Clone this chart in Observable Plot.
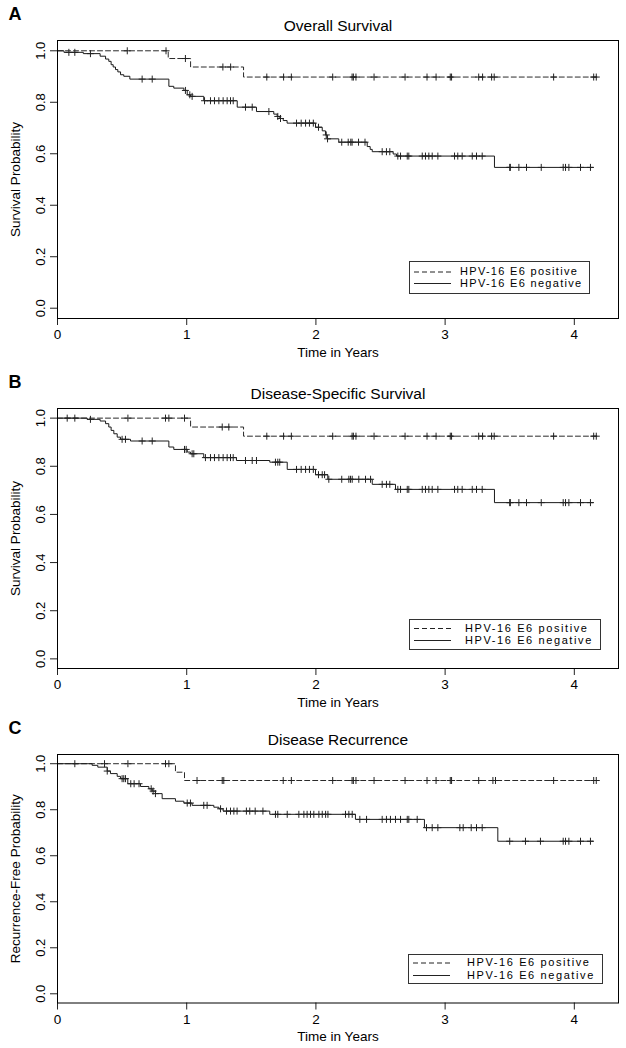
<!DOCTYPE html>
<html><head><meta charset="utf-8">
<script src="https://cdn.jsdelivr.net/npm/d3@7"></script>
<script src="https://cdn.jsdelivr.net/npm/@observablehq/plot@0.6"></script>
<style>
body{margin:0;background:#fff;font-family:"Liberation Sans",Arial,sans-serif;}
#chart{width:626px;}
#chart svg{display:block;}
</style></head><body><div id="chart"></div>
<script>
// ---------- shared ----------
const xTicks = [0, 1, 2, 3, 4];
const yTicks = [0, 0.2, 0.4, 0.6, 0.8, 1.0];
const groupNames = ["HPV-16 E6 positive", "HPV-16 E6 negative"];
const xLabel = "Time in Years";

// ---------- Panel A: Overall Survival ----------
const A_posTime = [0, 0.857, 1.03, 1.44];
const A_posSurv = [1, 0.970, 0.937, 0.898];
const A_posEnd = 4.19;
const A_posCens = [0.54, 0.84, 0.99, 1.28, 1.34, 1.62, 1.75, 1.81, 2.13, 2.28, 2.29, 2.31, 2.45, 2.69, 2.86, 2.93, 3.04, 3.05, 3.26, 3.29, 3.36, 3.38, 3.84, 4.15, 4.17];
const A_negTime = [0, 0.05, 0.20, 0.33, 0.372, 0.397, 0.415, 0.431, 0.449, 0.467, 0.488, 0.513, 0.560, 0.862, 0.90, 0.978, 1.004, 1.029, 1.132, 1.391, 1.540, 1.674, 1.700, 1.721, 1.747, 1.777, 1.997, 2.049, 2.074, 2.087, 2.177, 2.397, 2.42, 2.436, 2.598, 2.624, 3.382];
const A_negSurv = [1, 0.994, 0.989, 0.979, 0.968, 0.959, 0.946, 0.937, 0.927, 0.918, 0.907, 0.901, 0.890, 0.862, 0.855, 0.846, 0.829, 0.823, 0.806, 0.781, 0.764, 0.754, 0.745, 0.737, 0.729, 0.719, 0.703, 0.689, 0.673, 0.658, 0.645, 0.628, 0.617, 0.608, 0.599, 0.591, 0.547];
const A_negEnd = 4.146;
const A_negCens = [0.088, 0.134, 0.255, 0.655, 0.733, 0.99, 1.024, 1.042, 1.138, 1.184, 1.215, 1.249, 1.282, 1.313, 1.339, 1.36, 1.455, 1.507, 1.636, 1.705, 1.726, 1.85, 1.886, 1.92, 1.95, 1.98, 2.02, 2.08, 2.09, 2.2, 2.25, 2.27, 2.28, 2.33, 2.38, 2.513, 2.546, 2.572, 2.634, 2.655, 2.707, 2.719, 2.823, 2.848, 2.874, 2.9, 2.944, 3.073, 3.098, 3.132, 3.21, 3.243, 3.287, 3.50, 3.505, 3.571, 3.63, 3.744, 3.914, 3.932, 3.958, 4.048, 4.125];

// ---------- Panel B: Disease-Specific Survival ----------
const B_posTime = [0, 1.03, 1.44];
const B_posSurv = [1, 0.963, 0.925];
const B_posEnd = 4.19;
const B_posCens = [0.545, 0.836, 0.862, 0.983, 1.275, 1.326, 1.62, 1.75, 1.81, 2.13, 2.28, 2.29, 2.31, 2.45, 2.69, 2.86, 2.93, 3.04, 3.05, 3.26, 3.29, 3.36, 3.38, 3.84, 4.15, 4.17];
const B_negTime = [0, 0.23, 0.33, 0.372, 0.397, 0.415, 0.436, 0.462, 0.488, 0.565, 0.862, 0.90, 1.004, 1.029, 1.132, 1.385, 1.643, 1.778, 1.997, 2.092, 2.436, 2.616, 3.382];
const B_negSurv = [1, 0.995, 0.988, 0.977, 0.963, 0.949, 0.935, 0.921, 0.912, 0.905, 0.880, 0.870, 0.859, 0.852, 0.836, 0.824, 0.817, 0.787, 0.765, 0.746, 0.725, 0.704, 0.649];
const B_negEnd = 4.146;
const B_negCens = [0.075, 0.134, 0.255, 0.50, 0.526, 0.655, 0.733, 0.983, 0.996, 1.042, 1.055, 1.145, 1.184, 1.215, 1.249, 1.282, 1.313, 1.339, 1.36, 1.455, 1.507, 1.54, 1.687, 1.705, 1.72, 1.85, 1.886, 1.92, 1.95, 1.98, 2.02, 2.049, 2.067, 2.1, 2.2, 2.255, 2.268, 2.281, 2.332, 2.384, 2.423, 2.513, 2.546, 2.572, 2.634, 2.655, 2.707, 2.719, 2.823, 2.848, 2.874, 2.9, 2.944, 3.073, 3.098, 3.132, 3.21, 3.243, 3.287, 3.50, 3.505, 3.571, 3.63, 3.744, 3.914, 3.932, 3.958, 4.048, 4.125];

// ---------- Panel C: Disease Recurrence ----------
const C_posTime = [0, 0.913, 0.983];
const C_posSurv = [1, 0.963, 0.927];
const C_posEnd = 4.19;
const C_posCens = [0.364, 0.545, 0.836, 0.862, 1.08, 1.275, 1.287, 1.747, 1.81, 2.13, 2.28, 2.29, 2.31, 2.45, 2.69, 2.86, 2.93, 3.04, 3.05, 3.26, 3.37, 3.39, 3.84, 4.15, 4.17];
const C_negTime = [0, 0.268, 0.312, 0.385, 0.41, 0.462, 0.488, 0.544, 0.642, 0.707, 0.733, 0.758, 0.81, 0.913, 0.978, 1.042, 1.21, 1.249, 1.282, 1.643, 2.306, 2.84, 3.408];
const C_negSurv = [1, 0.993, 0.985, 0.968, 0.957, 0.945, 0.935, 0.913, 0.901, 0.891, 0.881, 0.870, 0.848, 0.837, 0.829, 0.819, 0.811, 0.804, 0.794, 0.780, 0.758, 0.722, 0.663];
const C_negEnd = 4.146;
const C_negCens = [0.134, 0.385, 0.50, 0.513, 0.526, 0.567, 0.593, 0.631, 0.725, 0.74, 0.758, 1.004, 1.029, 1.132, 1.158, 1.262, 1.308, 1.339, 1.365, 1.39, 1.462, 1.488, 1.53, 1.59, 1.687, 1.705, 1.778, 1.868, 1.907, 1.932, 1.958, 1.984, 2.023, 2.049, 2.075, 2.093, 2.229, 2.255, 2.281, 2.34, 2.392, 2.513, 2.546, 2.577, 2.616, 2.655, 2.707, 2.719, 2.784, 2.856, 2.9, 2.944, 3.114, 3.14, 3.202, 3.243, 3.287, 3.50, 3.622, 3.738, 3.914, 3.932, 3.958, 4.048, 4.125];

// ---------- helpers ----------
function stepLine(times, survs, end) {
  const pts = times.map((t, i) => ({t, s: survs[i]}));
  pts.push({t: end, s: survs[survs.length - 1]});
  return pts;
}
function censorPoints(times, survs, cens) {
  return cens.map(c => {
    let s = survs[0];
    for (let i = 0; i < times.length; i++) if (times[i] <= c) s = survs[i];
    return {t: c, s};
  });
}

const FONT = "'Liberation Sans', Arial, Helvetica, sans-serif";

function panel(cfg) {
  const posLine = stepLine(cfg.posTime, cfg.posSurv, cfg.posEnd);
  const negLine = stepLine(cfg.negTime, cfg.negSurv, cfg.negEnd);
  const posC = censorPoints(cfg.posTime, cfg.posSurv, cfg.posCens);
  const negC = censorPoints(cfg.negTime, cfg.negSurv, cfg.negCens);
  const plot = Plot.plot({
    width: 626,
    height: cfg.height,
    marginLeft: 57,
    marginRight: 8,
    marginTop: cfg.marginTop,
    marginBottom: cfg.marginBottom,
    style: {fontFamily: FONT, background: "#fff", color: "#000", overflow: "visible"},
    x: {domain: [0, 4.342]},
    y: {domain: [-0.04, 1.04]},
    marks: [
      Plot.axisX({ticks: xTicks, tickSize: 7, tickPadding: 4, fontSize: 13.5, label: null, stroke: "#222", tickFormat: d => String(d)}),
      Plot.axisY({ticks: yTicks, tickSize: 7, label: null, stroke: "#222", tickFormat: () => ""}),
      Plot.text(yTicks, {x: 0, y: d => d, text: d => d.toFixed(1), rotate: -90, dx: -17, fontSize: 13, fill: "#000", textAnchor: "middle", lineAnchor: "middle"}),
      Plot.line(posLine, {x: "t", y: "s", curve: "step-after", stroke: "#2a2a2a", strokeWidth: 1, strokeDasharray: "5,3"}),
      Plot.line(negLine, {x: "t", y: "s", curve: "step-after", stroke: "#1a1a1a", strokeWidth: 1}),
      Plot.dot(posC, {x: "t", y: "s", symbol: "plus", r: 2.4, stroke: "#222", strokeWidth: 1}),
      Plot.dot(negC, {x: "t", y: "s", symbol: "plus", r: 2.4, stroke: "#222", strokeWidth: 1}),
      Plot.frame({stroke: "#000", strokeWidth: 1}),
      Plot.text([cfg.title], {frameAnchor: "top", dy: -14, text: d => d, fontSize: 15.5, fill: "#000", textAnchor: "middle", lineAnchor: "middle"}),
      Plot.text([cfg.letter], {frameAnchor: "top-left", dx: -49, dy: -26, text: d => d, fontSize: 18, fontWeight: "bold", textAnchor: "start", lineAnchor: "middle", fill: "#000"}),
      Plot.text([cfg.yLabel], {frameAnchor: "left", dx: -42, rotate: -90, text: d => d, fontSize: 13.5, fill: "#000", textAnchor: "middle", lineAnchor: "middle"}),
      Plot.text([xLabel], {frameAnchor: "bottom", dy: 34, text: d => d, fontSize: 13.5, fill: "#000", textAnchor: "middle", lineAnchor: "middle"})
    ]
  });
  // legend (layout only)
  const L = cfg.legend;
  const svg = d3.select(plot);
  const g = svg.append("g").attr("font-family", FONT).attr("text-anchor", "start");
  g.append("rect").attr("x", L.x + 0.5).attr("y", L.y + 0.5).attr("width", L.w).attr("height", L.h)
    .attr("fill", "#fff").attr("stroke", "#333").attr("stroke-width", 1);
  const rows = [L.y + L.r1, L.y + L.r2];
  groupNames.forEach((name, i) => {
    g.append("line").attr("x1", L.x + 5).attr("x2", L.x + 42).attr("y1", rows[i] + 0.5).attr("y2", rows[i] + 0.5)
      .attr("stroke", "#222").attr("stroke-width", 1).attr("stroke-dasharray", i === 0 ? "5,3" : null);
    g.append("text").attr("x", L.x + L.tx).attr("y", rows[i]).attr("dy", "0.35em")
      .attr("text-anchor", "start")
      .attr("font-size", L.fs).attr("letter-spacing", L.ls).attr("fill", "#000").text(name);
  });
  return plot;
}

const chart = document.getElementById("chart");
chart.appendChild(panel({
  posTime: A_posTime, posSurv: A_posSurv, posEnd: A_posEnd, posCens: A_posCens,
  negTime: A_negTime, negSurv: A_negSurv, negEnd: A_negEnd, negCens: A_negCens,
  height: 362, marginTop: 40, marginBottom: 44,
  title: "Overall Survival", letter: "A", yLabel: "Survival Probability",
  legend: {x: 409, y: 261, w: 180, h: 32, r1: 10.5, r2: 22, tx: 51, fs: 11, ls: 1.3}
}));
chart.appendChild(panel({
  posTime: B_posTime, posSurv: B_posSurv, posEnd: B_posEnd, posCens: B_posCens,
  negTime: B_negTime, negSurv: B_negSurv, negEnd: B_negEnd, negCens: B_negCens,
  height: 350, marginTop: 46, marginBottom: 44,
  title: "Disease-Specific Survival", letter: "B", yLabel: "Survival Probability",
  legend: {x: 409, y: 257, w: 191, h: 30, r1: 9, r2: 21, tx: 56, fs: 11, ls: 1.6}
}));
chart.appendChild(panel({
  posTime: C_posTime, posSurv: C_posSurv, posEnd: C_posEnd, posCens: C_posCens,
  negTime: C_negTime, negSurv: C_negSurv, negEnd: C_negEnd, negCens: C_negCens,
  height: 336, marginTop: 42, marginBottom: 45.5,
  title: "Disease Recurrence", letter: "C", yLabel: "Recurrence-Free Probability",
  legend: {x: 408, y: 242, w: 194, h: 29, r1: 8.5, r2: 21, tx: 59, fs: 11, ls: 1.6}
}));
</script>
</body></html>
